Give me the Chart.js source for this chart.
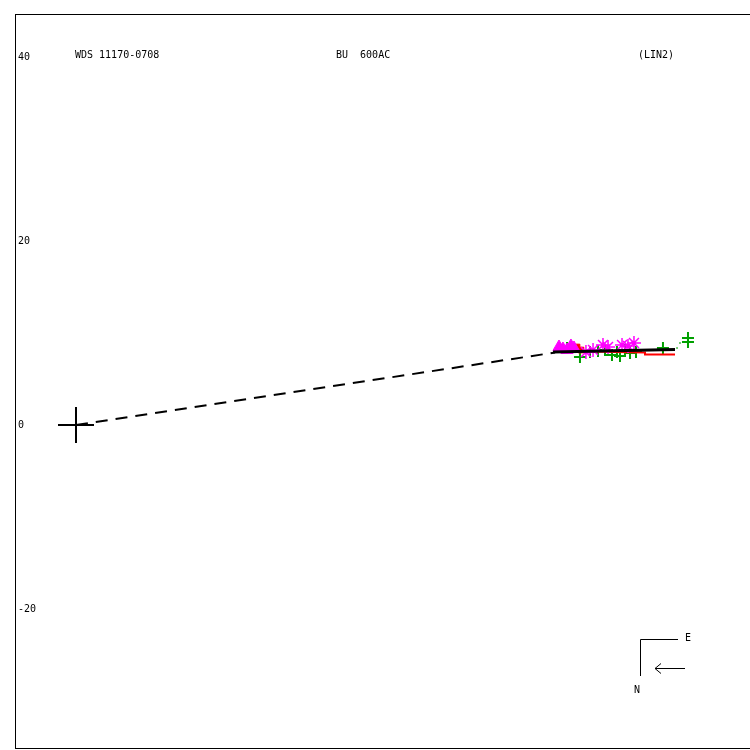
<!DOCTYPE html>
<html>
<head>
<meta charset="utf-8">
<script src="https://cdn.jsdelivr.net/npm/chart.js@4/dist/chart.umd.min.js"></script>
<style>
  body { margin: 0; background: #fff; }
</style>
</head>
<body>
<canvas id="chart" width="750" height="750"></canvas>
<script>
// axis ticks
const yTicks = [-20, 0, 20, 40];

// primary star and orbit connector
const primary = [{x: 0, y: 0}];
const connector = [{x: 0, y: 0}, {x: 52.07, y: 7.88}];

// fitted linear path (black) and predicted path (red)
const fitLine = [{x: 51.85, y: 7.93}, {x: 65.11, y: 8.21}];
const redLine = [{x: 52.61, y: 8.04}, {x: 61.85, y: 7.88}, {x: 61.85, y: 7.66}, {x: 65.11, y: 7.66}];

// measurements
const greenX = [53.37, 54.78, 55.87, 56.74, 57.50, 58.26, 58.80, 59.13, 59.67, 60.22, 60.87, 63.80, 66.52, 66.52];
const greenY = [8.37, 7.39, 7.93, 8.04, 8.15, 7.61, 7.93, 7.50, 8.15, 7.83, 7.93, 8.37, 9.46, 9.02];
const dotX = [65.33, 65.65];
const dotY = [8.37, 8.91];
const starX = [55.43, 56.20, 57.28, 57.83, 59.35, 60.00, 60.65];
const starY = [7.93, 8.15, 8.70, 8.48, 8.70, 8.59, 8.91];
const triX = [52.50, 52.93, 53.80, 54.13, 53.37];
const triY = [8.48, 8.26, 8.59, 8.37, 8.15];
const redX = [54.46, 54.89];
const redY = [8.48, 8.15];

const pts = (xs, ys) => xs.map((x, i) => ({x: x, y: ys[i]}));

const FONT = "'DejaVu Sans Mono', monospace";

const framePlugin = {
    id: 'frame',
    afterDraw(chart) {
        const c = chart.ctx;
        const a = chart.chartArea;
        c.save();
        c.strokeStyle = '#000';
        c.lineWidth = 1;
        c.strokeRect(a.left + 0.5, a.top + 0.5, a.right - a.left, a.bottom - a.top - 1);

        c.fillStyle = '#000';
        c.font = '10px ' + FONT;
        c.textBaseline = 'middle';
        c.textAlign = 'left';
        c.fillText('WDS 11170-0708', 75, 55);
        c.fillText('BU  600AC', 336, 55);
        c.fillText('(LIN2)', 638, 55);

        // compass
        c.beginPath();
        c.moveTo(678, 639.5); c.lineTo(640.5, 639.5); c.lineTo(640.5, 676);
        c.moveTo(685, 668.5); c.lineTo(655, 668.5);
        c.moveTo(661, 663.5); c.lineTo(655, 668.5); c.lineTo(661, 673.5);
        c.stroke();
        c.fillText('E', 685, 638);
        c.fillText('N', 634, 690);
        c.restore();
    }
};

const ctx = document.getElementById('chart').getContext('2d');
const myChart = new Chart(ctx, {
    type: 'scatter',
    data: {
        datasets: [
            {
                data: fitLine, showLine: true, borderColor: '#000', borderWidth: 3,
                pointRadius: 0, order: 1
            },
            {
                data: connector, showLine: true, borderColor: '#000', borderWidth: 2,
                borderDash: [12, 8], pointRadius: 0, order: 2
            },
            {
                data: primary, pointStyle: 'cross', pointRadius: 18, borderColor: '#000',
                borderWidth: 2, order: 3
            },
            {
                data: pts(starX, starY), pointStyle: 'star', pointRadius: 7,
                borderColor: '#ff00ff', borderWidth: 1.5, order: 4
            },
            {
                data: pts(triX, triY), pointStyle: 'triangle', pointRadius: 7,
                backgroundColor: '#ff00ff', borderColor: '#ff00ff', borderWidth: 1, order: 5
            },
            {
                data: pts(redX, redY), pointStyle: 'rect', pointRadius: 4,
                backgroundColor: '#ff0000', borderColor: '#ff0000', borderWidth: 1, order: 6
            },
            {
                data: redLine, showLine: true, borderColor: '#ff0000', borderWidth: 2,
                pointRadius: 0, order: 7
            },
            {
                data: pts(greenX, greenY), pointStyle: 'cross', pointRadius: 6,
                borderColor: '#00a000', borderWidth: 2, order: 8
            },
            {
                data: pts(dotX, dotY), pointStyle: 'rect', pointRadius: 1,
                backgroundColor: '#00a000', borderColor: '#00a000', borderWidth: 0, order: 9
            }
        ]
    },
    options: {
        responsive: false,
        animation: false,
        layout: { autoPadding: false, padding: { left: 15, top: 14, right: 0, bottom: 1 } },
        plugins: { legend: { display: false }, tooltip: { enabled: false } },
        scales: {
            x: {
                type: 'linear', min: -6.630, max: 73.261, display: false
            },
            y: {
                type: 'linear', min: -35.217, max: 44.674,
                grid: { display: false, drawTicks: false },
                border: { display: false },
                afterBuildTicks: (axis) => { axis.ticks = yTicks.map(v => ({value: v})); },
                afterFit: (axis) => {
                    axis.width = 0;
                    axis.paddingTop = 0;
                    axis.paddingBottom = 0;
                },
                ticks: {
                    mirror: true, padding: 3, color: '#000',
                    font: { family: FONT, size: 10 }
                }
            }
        }
    },
    plugins: [framePlugin]
});
</script>
</body>
</html>
